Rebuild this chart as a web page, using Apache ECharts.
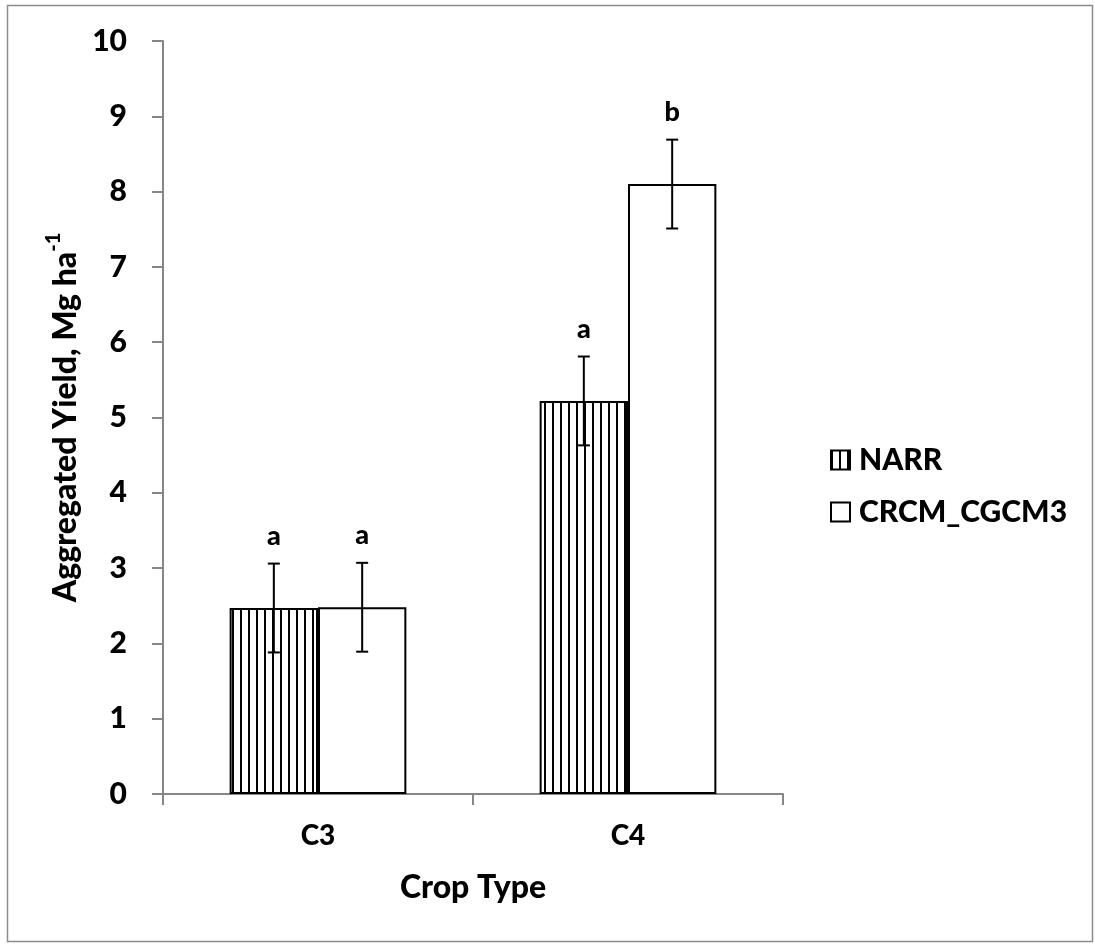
<!DOCTYPE html>
<html>
<head>
<meta charset="utf-8">
<script src="https://cdn.jsdelivr.net/npm/echarts@6/dist/echarts.min.js"></script>
<style>html,body{margin:0;padding:0;background:#fff;}#c{width:1095px;height:945px;}</style>
</head>
<body>
<div id="c"></div>
<script>
const categories = ['C3', 'C4'];
const seriesNames = ['NARR', 'CRCM_CGCM3'];
const narrValues = [2.47, 5.22];
const narrErrors = [0.59, 0.59];
const narrLetters = ['a', 'a'];
const crcmValues = [2.48, 8.10];
const crcmErrors = [0.59, 0.59];
const crcmLetters = ['a', 'b'];
const yTicks = [0, 1, 2, 3, 4, 5, 6, 7, 8, 9, 10];

const FONT = 'Lato';
const W = 900;
const CAT_GAP = 0.43;

function stripePattern() {
  const cv = document.createElement('canvas');
  cv.width = 8; cv.height = 8;
  const ctx = cv.getContext('2d');
  ctx.fillStyle = '#ffffff';
  ctx.fillRect(0, 0, 8, 8);
  ctx.fillStyle = '#000000';
  ctx.fillRect(0, 0, 2, 8);
  return cv;
}

const chart = echarts.init(document.getElementById('c'), null, {renderer: 'canvas'});

function errSeries(idx, values, errors, letters) {
  return {
    type: 'custom',
    name: seriesNames[idx] + '_err',
    silent: true,
    z: 5,
    data: values.map((v, i) => [i, v, errors[i]]),
    renderItem: function (params, api) {
      const ci = api.value(0);
      const v = api.value(1);
      const e = api.value(2);
      const letter = letters[params.dataIndex];
      const band = api.size([1, 0])[0];
      const barW = band * (1 - CAT_GAP) / 2;
      const off = (idx === 0 ? -0.5 : 0.5) * barW;
      const top = api.coord([ci, v + e]);
      const bot = api.coord([ci, v - e]);
      const x = top[0] + off;
      const cap = 6;
      const st = {stroke: '#000', lineWidth: 2};
      return {
        type: 'group',
        children: [
          {type: 'line', shape: {x1: x, y1: top[1], x2: x, y2: bot[1]}, style: st},
          {type: 'line', shape: {x1: x - cap, y1: top[1], x2: x + cap, y2: top[1]}, style: st},
          {type: 'line', shape: {x1: x - cap, y1: bot[1], x2: x + cap, y2: bot[1]}, style: st},
          {type: 'text', x: x, y: top[1] - 14, style: {text: letter, fill: '#000', font: W + ' 27px ' + FONT, align: 'center', verticalAlign: 'bottom'}}
        ]
      };
    }
  };
}

const option = {
  backgroundColor: '#ffffff',
  animation: false,
  textStyle: {fontFamily: FONT},
  grid: {left: 163, right: 312, top: 41, bottom: 151, containLabel: false},
  legend: {
    orient: 'vertical',
    left: 825,
    top: 439,
    icon: 'rect',
    itemWidth: 19,
    itemHeight: 19,
    itemGap: 20,
    data: seriesNames,
    textStyle: {fontFamily: FONT, fontWeight: W, fontSize: 30, color: '#000', lineHeight: 32, padding: [0, 0, 0, 4]},
    selectedMode: false
  },
  xAxis: {
    type: 'category',
    data: categories,
    name: 'Crop Type',
    nameLocation: 'middle',
    nameGap: 78,
    nameTextStyle: {fontFamily: FONT, fontWeight: W, fontSize: 32, color: '#000'},
    axisLine: {lineStyle: {color: '#868686', width: 2}},
    axisTick: {show: true, length: 11, lineStyle: {color: '#868686', width: 2}},
    axisLabel: {fontFamily: FONT, fontWeight: W, fontSize: 28, color: '#000', margin: 28}
  },
  yAxis: {
    type: 'value',
    min: yTicks[0],
    max: yTicks[yTicks.length - 1],
    interval: 1,
    name: '{t|Aggregated Yield, Mg ha}{s|-1}',
    nameLocation: 'middle',
    nameGap: 81,
    nameRotate: 90,
    nameTextStyle: {
      rich: {
        t: {fontFamily: FONT, fontWeight: W, fontSize: 32, color: '#000', verticalAlign: 'bottom', lineHeight: 38},
        s: {fontFamily: FONT, fontWeight: W, fontSize: 20, color: '#000', verticalAlign: 'top', lineHeight: 38, padding: [0, 0, 14, 0]}
      }
    },
    splitLine: {show: false},
    axisLine: {show: true, lineStyle: {color: '#868686', width: 2}},
    axisTick: {show: true, length: 11, lineStyle: {color: '#868686', width: 2}},
    axisLabel: {fontFamily: FONT, fontWeight: W, fontSize: 30, color: '#000', margin: 36}
  },
  series: [
    {
      type: 'bar',
      name: seriesNames[0],
      data: narrValues,
      barGap: '0%',
      barCategoryGap: (CAT_GAP * 100) + '%',
      itemStyle: {color: {image: stripePattern(), repeat: 'repeat'}, borderColor: '#000', borderWidth: 2},
      emphasis: {disabled: true}
    },
    {
      type: 'bar',
      name: seriesNames[1],
      data: crcmValues,
      barGap: '0%',
      barCategoryGap: (CAT_GAP * 100) + '%',
      itemStyle: {color: '#ffffff', borderColor: '#000', borderWidth: 2},
      emphasis: {disabled: true}
    },
    errSeries(0, narrValues, narrErrors, narrLetters),
    errSeries(1, crcmValues, crcmErrors, crcmLetters)
  ],
  graphic: [
    {type: 'rect', shape: {x: 7.5, y: 5.5, width: 1085, height: 936}, style: {fill: 'none', stroke: '#8c8c8c', lineWidth: 1.5}, silent: true, z: -10}
  ]
};
chart.setOption(option);
</script>
</body>
</html>
